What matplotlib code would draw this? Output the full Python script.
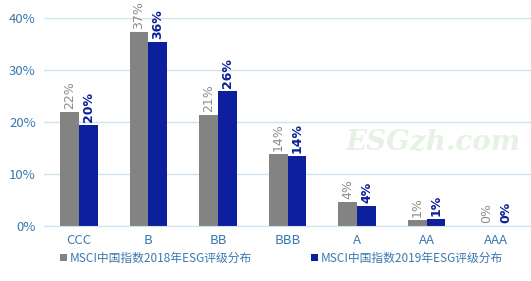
import matplotlib.pyplot as plt
import numpy as np

plt.rcParams['font.family'] = ['Noto Sans CJK SC', 'DejaVu Sans']

ratings = ['CCC', 'B', 'BB', 'BBB', 'A', 'AA', 'AAA']
msci_2018 = [21.9, 37.3, 21.3, 13.8, 4.6, 1.1, 0.0]
msci_2019 = [19.4, 35.4, 26.0, 13.5, 3.8, 1.35, 0.0]
labels_2018 = ['22%', '37%', '21%', '14%', '4%', '1%', '0%']
labels_2019 = ['20%', '36%', '26%', '14%', '4%', '1%', '0%']
legend_names = ['MSCI中国指数2018年ESG评级分布', 'MSCI中国指数2019年ESG评级分布']

gray = '#838383'
navy = '#0c1f9c'
tick_col = '#3a78b0'

fig = plt.figure(figsize=(5.31, 2.81), dpi=100)
ax = fig.add_axes([0.083, 0.196, 0.917, 0.74])

x = np.arange(len(ratings))
w = 0.27
b1 = ax.bar(x - w / 2, msci_2018, w, color=gray, label=legend_names[0], zorder=2)
b2 = ax.bar(x + w / 2, msci_2019, w, color=navy, label=legend_names[1], zorder=2)

for i in range(len(ratings)):
    ax.text(x[i] - w / 2, msci_2018[i] + 0.6, labels_2018[i], rotation=90, ha='center', va='bottom',
            color='#8c8c8c', fontsize=9, family=['DejaVu Sans'])
    ax.text(x[i] + w / 2, msci_2019[i] + 0.6, labels_2019[i], rotation=90, ha='center', va='bottom',
            color=navy, fontsize=9, fontweight='bold', family=['DejaVu Sans'])

ax.set_xlim(-0.5, len(ratings) - 0.5)
ax.set_ylim(0, 40)
ax.set_yticks([0, 10, 20, 30, 40])
ax.set_yticklabels(['0%', '10%', '20%', '30%', '40%'])
ax.set_xticks(x)
ax.set_xticklabels(ratings)
ax.yaxis.grid(True, color='#cde3f0', linewidth=1, zorder=0)
ax.set_axisbelow(True)
for s in ['top', 'right', 'left']:
    ax.spines[s].set_visible(False)
ax.spines['bottom'].set_color('#cde3f0')
ax.tick_params(length=0, colors=tick_col, labelsize=9.5)
ax.tick_params(axis='y', pad=6)
ax.tick_params(axis='x', pad=6)

# watermark
ax.text(0.8, 0.40, 'ESGzh.com', transform=ax.transAxes, ha='center', va='center',
        fontsize=20, color='#e6f2e4', style='italic', fontweight='bold',
        family=['DejaVu Serif'], zorder=1)

leg = fig.legend(handles=[b1, b2], loc='lower center', bbox_to_anchor=(0.53, 0.02), ncol=2,
                 frameon=False, fontsize=8.5, handlelength=0.6, handleheight=0.6,
                 handletextpad=0.2, columnspacing=5)
for t in leg.get_texts():
    t.set_color(tick_col)

fig.savefig('out.png', dpi=100)
